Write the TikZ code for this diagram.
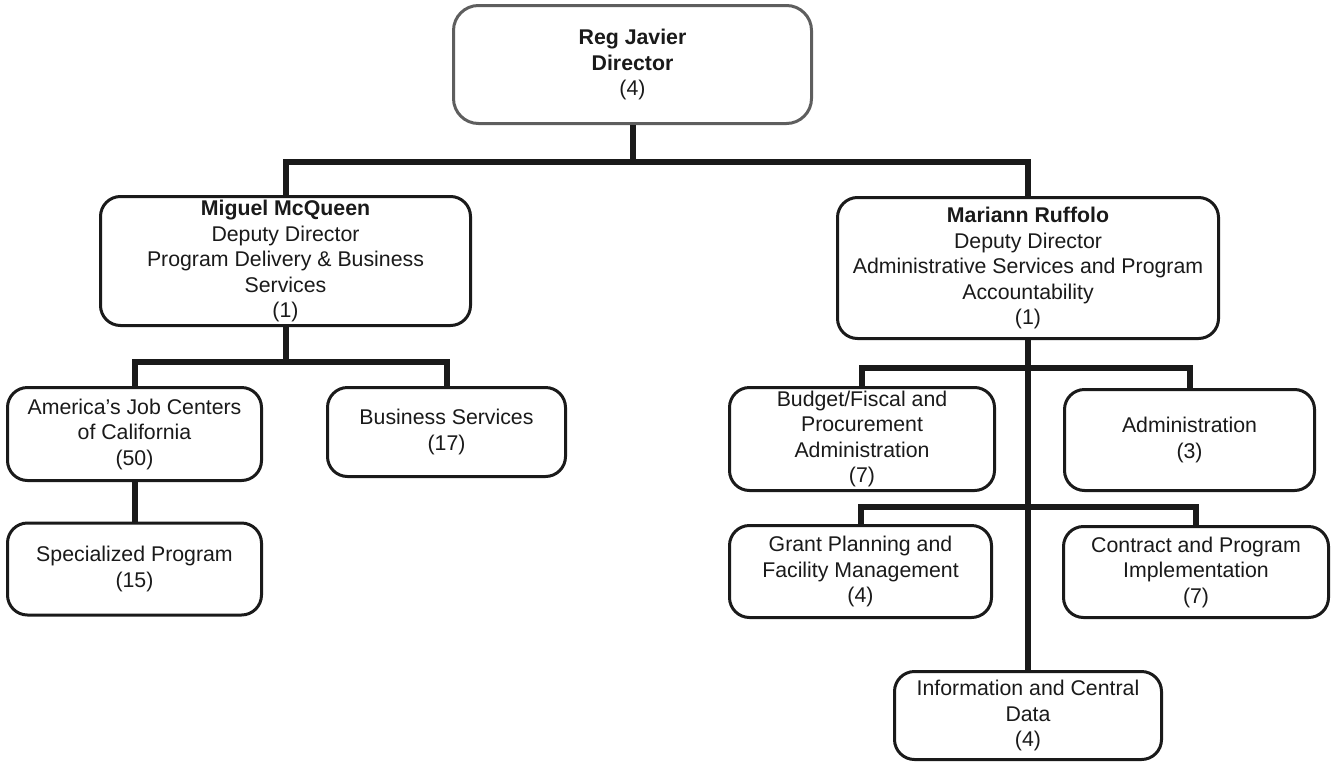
\documentclass[tikz,border=0pt]{standalone}
\usepackage{fontspec}
\setmainfont{Liberation Sans}
\definecolor{linek}{HTML}{1A1A1A}
\definecolor{topgrey}{HTML}{5E5E5E}
\tikzset{
  orgbox/.style={draw=linek, line width=3pt, rounded corners=20pt, fill=white,
    align=center, inner sep=0pt, text=linek,
    font=\fontsize{21.3}{25.5}\selectfont},
  topbox/.style={orgbox, draw=topgrey, rounded corners=25pt},
  conn/.style={draw=linek, line width=6pt}
}
\begin{document}
\begin{tikzpicture}[x=1pt,y=-1pt]
\useasboundingbox (0,0) rectangle (1332,763);
\coordinate (j0) at (632.5,162);
\coordinate (j1) at (285.5,362);
\coordinate (j2) at (1028,368);
\coordinate (j3) at (1028,507);
% boxes
\node[topbox, minimum width=358pt, minimum height=118pt] (top) at (632.5,64.5)
  {\textbf{Reg Javier}\\\textbf{Director}\\(4)};
\node[orgbox, minimum width=370pt, minimum height=129pt] (miguel) at (285.5,261)
  {\textbf{Miguel McQueen}\\Deputy Director\\Program Delivery \& Business\\Services\\(1)};
\node[orgbox, minimum width=381pt, minimum height=141pt] (mariann) at (1028,268)
  {\textbf{Mariann Ruffolo}\\Deputy Director\\Administrative Services and Program\\Accountability\\(1)};
\node[orgbox, minimum width=254pt, minimum height=93pt] (america) at (134.5,434)
  {America’s Job Centers\\of California\\(50)};
\node[orgbox, minimum width=238pt, minimum height=89pt] (business) at (446.5,432)
  {Business Services\\(17)};
\node[orgbox, minimum width=254pt, minimum height=92pt] (special) at (134.5,569)
  {Specialized Program\\(15)};
\node[orgbox, minimum width=265pt, minimum height=103pt] (budget) at (862,439)
  {Budget/Fiscal and\\Procurement\\Administration\\(7)};
\node[orgbox, minimum width=250pt, minimum height=101pt] (admin) at (1189.5,440)
  {Administration\\(3)};
\node[orgbox, minimum width=262pt, minimum height=92pt] (grant) at (860.5,571.5)
  {Grant Planning and\\Facility Management\\(4)};
\node[orgbox, minimum width=265pt, minimum height=91pt] (contract) at (1196,572)
  {Contract and Program\\Implementation\\(7)};
\node[orgbox, minimum width=267pt, minimum height=88pt] (info) at (1028,715.5)
  {Information and Central\\Data\\(4)};
% connectors
\draw[conn] (top.south) -- (j0);
\draw[conn] (miguel.north) |- (j0) -| (mariann.north);
\draw[conn] (miguel.south) -- (j1);
\draw[conn] (america.north) |- (j1) -| (business.north);
\draw[conn] (america.south) -- (special.north);
\draw[conn] (mariann.south) -- (info.north);
\draw[conn] (budget.north) |- (j2) -| (admin.north);
\draw[conn] (grant.north) |- (j3) -| (contract.north);
\end{tikzpicture}
\end{document}
